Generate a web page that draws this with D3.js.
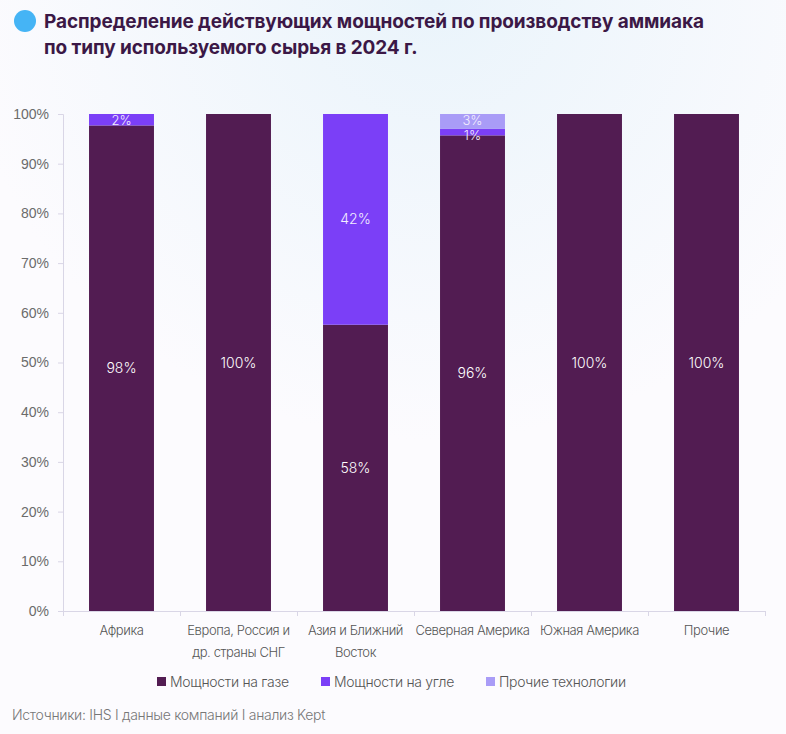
<!DOCTYPE html>
<html>
<head>
<meta charset="utf-8">
<script src="https://cdn.jsdelivr.net/npm/d3@7"></script>
<style>
  body { margin: 0; background: #fcfbfe; }
  svg { display: block; font-family: Inter, "Noto Sans", sans-serif; }
</style>
</head>
<body>
<div id="viz"></div>
<script>
const regions = [['Африка'], ['Европа, Россия и', 'др. страны СНГ'], ['Азия и Ближний', 'Восток'],
                 ['Северная Америка'], ['Южная Америка'], ['Прочие']]
const gas   = [97.7, 100, 57.6, 95.7, 100, 100]
const coal  = [2.3, 0, 42.4, 1.3, 0, 0]
const other = [0, 0, 0, 3.0, 0, 0]
const gasLabels   = ['98%', '100%', '58%', '96%', '100%', '100%']
const coalLabels  = ['2%', '', '42%', '1%', '', '']
const otherLabels = ['', '', '', '3%', '', '']
const seriesNames = ['Мощности на газе', 'Мощности на угле', 'Прочие технологии']
const colors = ['#521c52', '#7b3ff7', '#a99cf7']
const yTicks = [0, 10, 20, 30, 40, 50, 60, 70, 80, 90, 100]

let width = 786, height = 734
let margin = {left: 63, right: 21, top: 114, bottom: 123}

let svg = d3.select('#viz').append('svg')
            .attr('width', width)
            .attr('height', height)

// faint background glow
let defs = svg.append('defs')
let grad = defs.append('radialGradient').attr('id', 'glow').attr('cx', '0.55').attr('cy', '0').attr('r', '0.6')
grad.append('stop').attr('offset', '0').attr('stop-color', '#eaf4fb')
grad.append('stop').attr('offset', '1').attr('stop-color', '#fcfbfe')
svg.append('rect').attr('width', width).attr('height', height).attr('fill', 'url(#glow)')

// title
svg.append('circle').attr('cx', 25).attr('cy', 21).attr('r', 11).attr('fill', '#45b4f5')
svg.append('text').attr('x', 44).attr('y', 28)
   .style('font-size', '19px').style('font-weight', 700).style('fill', '#3b1846').style('letter-spacing', '-0.1px')
   .text('Распределение действующих мощностей по производству аммиака')
svg.append('text').attr('x', 44).attr('y', 54)
   .style('font-size', '19px').style('font-weight', 700).style('fill', '#3b1846').style('letter-spacing', '-0.1px')
   .text('по типу используемого сырья в 2024 г.')

let keys = regions.map((r, i) => i)
let xScale = d3.scaleBand()
               .domain(keys)
               .range([margin.left, width - margin.right])
               .paddingInner(0.445)
               .paddingOuter(0.2225)

let yScale = d3.scaleLinear()
               .domain([0, 100])
               .range([height - margin.bottom, margin.top])

// y axis
let yAxis = svg.append('g')
               .attr('transform', `translate(${margin.left},0)`)
               .call(d3.axisLeft(yScale).tickValues(yTicks).tickSize(5).tickFormat(d => d + '%'))
yAxis.select('.domain').attr('stroke', '#d9d6e6')
yAxis.selectAll('.tick line').attr('stroke', '#d9d6e6')
yAxis.selectAll('text').style('font-size', '14px').style('fill', '#6b6b6b').style('font-weight', 300).attr('x', -14)

// x axis
let xAxis = svg.append('g')
               .attr('transform', `translate(0,${height - margin.bottom})`)
               .call(d3.axisBottom(d3.scalePoint().domain(d3.range(7)).range([margin.left, width - margin.right]))
                       .tickSize(5).tickFormat(''))
xAxis.select('.domain').attr('stroke', '#d9d6e6')
xAxis.selectAll('.tick line').attr('stroke', '#d9d6e6')

svg.append('g').selectAll('text')
   .data(regions)
   .enter()
     .append('text')
     .attr('x', (d, i) => xScale(i) + xScale.bandwidth() / 2)
     .attr('y', height - margin.bottom + 24)
     .attr('text-anchor', 'middle')
     .style('font-size', '13px').style('fill', '#555').style('font-weight', 300).style('letter-spacing', '-0.4px')
     .selectAll('tspan')
     .data(d => d)
     .enter()
       .append('tspan')
       .attr('x', function() { return d3.select(this.parentNode).attr('x') })
       .attr('dy', (d, j) => j === 0 ? 0 : 22)
       .text(d => d)

// stacked bars
let table = keys.map(i => ({i: i, gas: gas[i], coal: coal[i], other: other[i]}))
let stack = d3.stack().keys(['gas', 'coal', 'other'])(table)
let labels = [gasLabels, coalLabels, otherLabels]

stack.forEach((layer, s) => {
  svg.append('g').selectAll('rect')
     .data(layer.filter(d => d[1] - d[0] > 0))
     .enter()
       .append('rect')
       .attr('x', d => xScale(d.data.i))
       .attr('y', d => yScale(d[1]))
       .attr('width', xScale.bandwidth())
       .attr('height', d => yScale(d[0]) - yScale(d[1]))
       .style('fill', colors[s])
})

// thin segments get their label nudged so neighbours do not collide
stack.forEach((layer, s) => {
  svg.append('g').selectAll('text')
     .data(layer.filter(d => labels[s][d.data.i] !== ''))
     .enter()
       .append('text')
       .attr('x', d => xScale(d.data.i) + xScale.bandwidth() / 2)
       .attr('y', d => {
         let y = yScale((d[0] + d[1]) / 2) + 5
         if (s === 1 && d.data.other > 0) y += 3
         if (s === 2) y -= 1
         return y
       })
       .attr('text-anchor', 'middle')
       .style('font-size', d => (d[1] - d[0] < 4 ? '13px' : '14px'))
       .style('fill', s === 0 ? '#ffffff' : '#f3eeff').style('font-weight', 300)
       .text(d => labels[s][d.data.i])
})

// legend
let legendX = [157, 321, 486]
let legend = svg.append('g').selectAll('g')
                .data(seriesNames)
                .enter()
                  .append('g')
                  .attr('transform', (d, i) => `translate(${legendX[i]},682)`)
legend.append('rect').attr('x', 0).attr('y', -5).attr('width', 9).attr('height', 9).style('fill', (d, i) => colors[i])
legend.append('text').attr('x', 13).attr('y', 5)
      .style('font-size', '14px').style('fill', '#555').style('font-weight', 300).style('letter-spacing', '-0.3px')
      .text(d => d)

// source
svg.append('text').attr('x', 12).attr('y', 720)
   .style('font-size', '14px').style('fill', '#777').style('font-weight', 300).style('letter-spacing', '-0.3px')
   .text('Источники: IHS I данные компаний I анализ Kept')
</script>
</body>
</html>
